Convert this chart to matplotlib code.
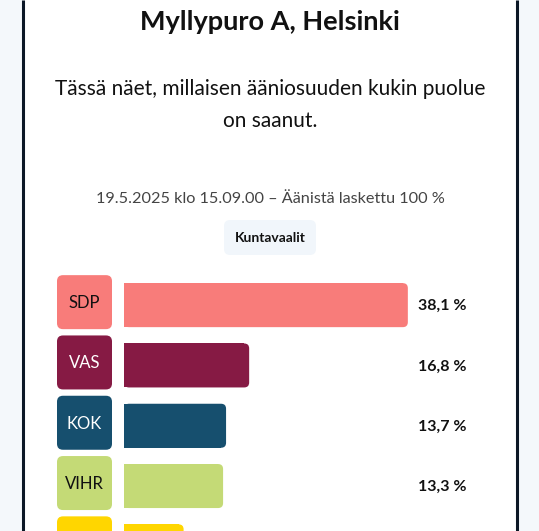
import matplotlib.pyplot as plt
from matplotlib.patches import FancyBboxPatch, Rectangle

plt.rcParams['font.family'] = ['Lato', 'DejaVu Sans']

# data
parties = ['SDP', 'VAS', 'KOK', 'VIHR', 'PS']
shares = [38.1, 16.8, 13.7, 13.3, 8.0]
value_labels = ['38,1 %', '16,8 %', '13,7 %', '13,3 %', '8,0 %']
party_colors = ['#f87c7a', '#861a44', '#164f6e', '#c4da76', '#ffd600']
label_colors = ['#111111', 'white', 'white', '#111111', '#111111']

W, H = 539, 531
fig = plt.figure(figsize=(W / 100, H / 100), dpi=100, facecolor='#f4f8fb')

# pixel based background axes
bg = fig.add_axes([0, 0, 1, 1])
bg.set_xlim(0, W)
bg.set_ylim(H, 0)
bg.axis('off')

bg.add_patch(Rectangle((23, -5), 494, H + 10, facecolor='white', edgecolor='none'))
bg.plot([23, 23], [0, H], color='#0b1726', lw=2.2, solid_capstyle='butt')
bg.plot([517, 517], [0, H], color='#0b1726', lw=2.2, solid_capstyle='butt')

bg.text(270, 22, 'Myllypuro A, Helsinki', ha='center', va='center',
        fontsize=19.5, fontweight='bold', color='#111111')
bg.text(270, 105, 'Tässä näet, millaisen ääniosuuden kukin puolue\non saanut.',
        ha='center', va='center', fontsize=15, linespacing=1.7, color='#111111')
bg.text(270, 199, '19.5.2025 klo 15.09.00 – Äänistä laskettu 100 %',
        ha='center', va='center', fontsize=11.7, color='#444444')

bg.add_patch(FancyBboxPatch((224, 220), 92, 35, boxstyle='round,pad=0,rounding_size=6',
                            facecolor='#f1f6fb', edgecolor='none'))
bg.text(270, 238, 'Kuntavaalit', ha='center', va='center', fontsize=10,
        fontweight='bold', color='#111111')

# bar axes
row_px = 60.3
top_px = 275
n = len(parties)
ax = fig.add_axes([124 / W, 1 - (top_px + n * row_px) / H, 372.5 / W, n * row_px / H])
ax.set_xlim(0, 50)
ax.set_ylim(n - 0.5, -0.5)
ax.axis('off')
ax.patch.set_alpha(0)

bars = ax.barh(range(n), shares, height=44 / row_px, color=party_colors)

to_bg = bg.transData.inverted()
r = 5
for i, bar in enumerate(bars):
    bar.set_visible(False)
    x0, y0 = bar.get_x(), bar.get_y()
    x1, y1 = x0 + bar.get_width(), y0 + bar.get_height()
    (px0, py0), (px1, py1) = to_bg.transform(ax.transData.transform([(x0, y0), (x1, y1)]))
    left, right = min(px0, px1), max(px0, px1)
    top, bottom = min(py0, py1), max(py0, py1)
    c = party_colors[i]
    bg.add_patch(Rectangle((left, top), (right - left) - r, bottom - top,
                           facecolor=c, edgecolor='none'))
    bg.add_patch(FancyBboxPatch((left, top), right - left, bottom - top,
                                boxstyle=f'round,pad=0,rounding_size={r}',
                                facecolor=c, edgecolor='none'))
    yc = (top + bottom) / 2
    # party tag, sits a little higher than the bar
    bg.add_patch(FancyBboxPatch((57, yc - 30), 55, 54,
                                boxstyle='round,pad=0,rounding_size=6',
                                facecolor=c, edgecolor='none'))
    if yc > H:
        continue  # row lies below the visible area
    bg.text(84.5, yc - 2, parties[i], ha='center', va='center', fontsize=12,
            color=label_colors[i])
    bg.text(418, yc + 1, value_labels[i], ha='left', va='center', fontsize=11.5,
            fontweight='bold', color='#111111')

fig.savefig('out.png', dpi=100, facecolor=fig.get_facecolor())
